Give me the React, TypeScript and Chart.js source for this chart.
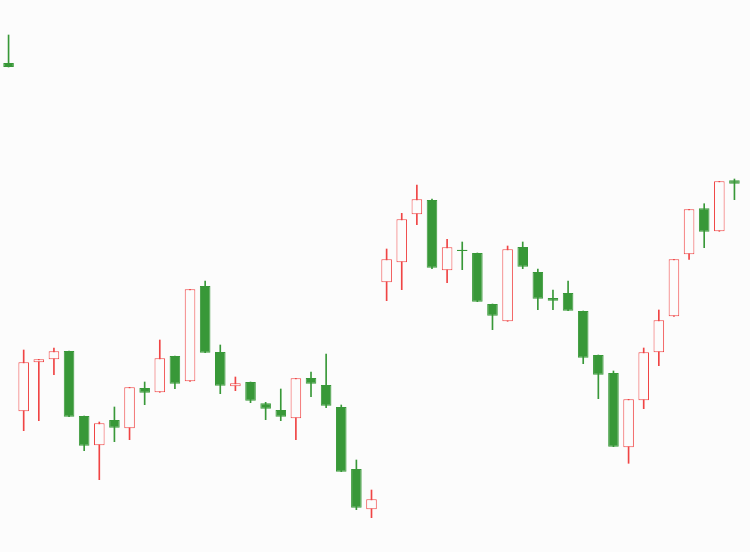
import React, { useEffect, useRef } from "react";
import { Chart, registerables } from "chart.js";

Chart.register(...registerables);

const labels: string[] = Array.from({ length: 49 }, (_, i) => `D${i + 1}`);

const openP: number[] = [
  489, 140.7, 189.7, 192.7, 201, 136, 106.7, 132, 123.7, 164, 159.7, 196, 170.7, 266, 200, 165.7,
  170, 148.7, 142, 133.7, 174, 167, 145, 83, 42.7, 269.7, 289.7, 337.7, 352, 281.7, 302.3, 299,
  248, 230.7, 305, 280, 254, 259, 241, 197, 179, 104.7, 151.7, 199.7, 235.7, 297.7, 343.7, 320.7, 371.7,
];
const highP: number[] = [
  517, 202, 192.7, 204, 201, 136, 130, 145, 164.7, 170, 212, 196, 262.7, 271, 207, 175,
  170, 149.7, 163, 173.7, 180, 198, 147, 92, 62, 303, 338.7, 367, 353, 312.7, 310, 299,
  248, 306, 310, 283, 262, 271, 241, 197, 181, 152.7, 204, 242, 292.7, 342.7, 348.3, 370.7, 373,
];
const lowP: number[] = [
  485, 121.3, 131.3, 177.3, 135.3, 101.3, 72.3, 110.3, 112.3, 147.3, 159.7, 163.3, 170.7, 199.3, 158.3, 161.3,
  149.3, 132.3, 131.3, 112.3, 155.3, 144.3, 80.3, 42.3, 34.3, 251.3, 262.3, 327.3, 283.3, 269.3, 282.3, 250.3,
  222.3, 230.7, 283.3, 242.3, 242.3, 241.3, 188.3, 153.3, 105.3, 88.7, 143.3, 186.3, 235.7, 292.7, 304.3, 320.7, 352.3,
];
const closeP: number[] = [
  485, 189.7, 192.7, 200.7, 135.3, 106.3, 128.7, 124.3, 164.7, 159.3, 193.7, 168.3, 262.7, 199.3, 166.3, 168.7,
  151.3, 143.3, 135.3, 173.7, 168.3, 146.3, 80.3, 44.3, 52.7, 292.7, 332.7, 352.7, 284.3, 304.7, 301, 250.3,
  236.3, 302.7, 285.3, 253.3, 251.3, 241.3, 194.3, 177.3, 105.3, 152.7, 199.7, 231.7, 292.7, 342.7, 320.3, 370.7, 368.3,
];

const UP = "#f04444";
const DOWN = "#389838";
const BG = "#fcfcfc";

export default function App() {
  const ref = useRef<HTMLCanvasElement | null>(null);

  useEffect(() => {
    if (!ref.current) return;
    const isUp = openP.map((o, i) => closeP[i] >= o && i !== 0 ? closeP[i] > o : false);
    const colorOf = (i: number) => (isUp[i] ? UP : DOWN);

    const chart = new Chart(ref.current, {
      type: "bar",
      data: {
        labels,
        datasets: [
          {
            label: "wick",
            data: labels.map((_, i) => [lowP[i], highP[i]]) as any,
            backgroundColor: labels.map((_, i) => colorOf(i)),
            borderWidth: 0,
            barThickness: 1,
            grouped: false,
            order: 2,
          } as any,
          {
            label: "body",
            data: labels.map((_, i) => [openP[i], closeP[i]]) as any,
            backgroundColor: labels.map((_, i) => (isUp[i] ? BG : DOWN)),
            borderColor: labels.map((_, i) => colorOf(i)),
            borderWidth: 1,
            borderSkipped: false,
            barPercentage: 0.7,
            categoryPercentage: 1,
            grouped: false,
            order: 1,
          } as any,
        ],
      },
      options: {
        animation: false,
        responsive: false,
        devicePixelRatio: 1,
        layout: { padding: { left: 1, right: 8, top: 0, bottom: 0 } },
        plugins: {
          legend: { display: false },
          tooltip: { enabled: false },
        },
        scales: {
          x: { display: false, offset: true },
          y: { display: false, min: 0, max: 552 },
        },
      },
    });
    return () => chart.destroy();
  }, []);

  return (
    <div
      style={{
        position: "absolute",
        left: 0,
        top: 0,
        width: 750,
        height: 552,
        background: BG,
      }}
    >
      <canvas ref={ref} width={750} height={552} />
    </div>
  );
}
